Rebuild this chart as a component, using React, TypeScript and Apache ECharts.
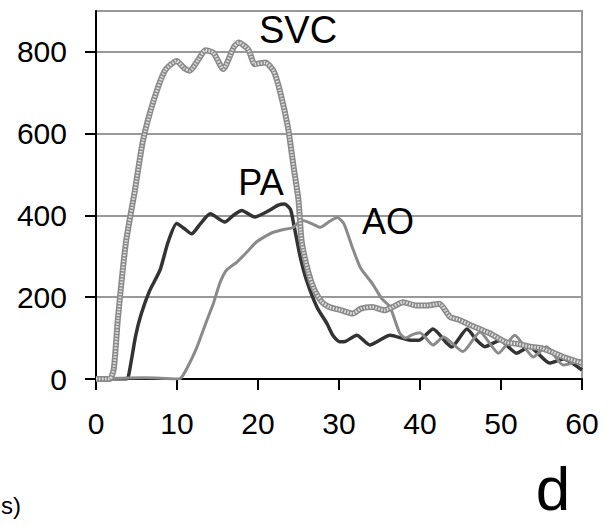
import React, { useEffect, useRef } from "react";
import * as echarts from "echarts";

const xTicks = [0, 10, 20, 30, 40, 50, 60];
const yTicks = [0, 200, 400, 600, 800];

const svcData: number[][] = [
  [0, 0], [1.7, 0], [2.2, 25], [2.7, 147], [3.7, 335], [4.8, 461], [5.8, 583], [7.1, 680],
  [8.5, 754], [9.95, 778], [10.9, 760], [11.6, 754], [12.6, 780], [13.5, 804], [14.5, 798],
  [15.7, 758], [17.0, 811], [17.6, 823], [18.8, 806], [19.6, 770], [20.9, 774], [21.9, 754],
  [22.7, 705], [23.7, 615], [24.4, 518], [25.0, 437], [25.4, 335], [26.2, 262], [26.9, 221],
  [27.9, 188], [28.8, 176], [30.3, 168], [31.7, 160], [32.7, 172], [34.1, 176], [35.6, 168],
  [36.6, 176], [37.9, 188], [39.5, 180], [40.9, 180], [42.4, 184], [43.7, 152], [44.8, 145],
  [46.2, 132], [48.6, 112], [50.6, 90], [52.0, 86], [53.6, 79], [54.9, 76], [56.4, 65],
  [57.8, 53], [60, 39],
];

const paData: number[][] = [
  [0, 0], [3.7, 0], [4.0, 6], [4.9, 106], [5.6, 160], [6.6, 215], [7.9, 266], [8.9, 335],
  [9.96, 380], [10.9, 368], [11.8, 355], [12.9, 380], [14.1, 404], [15.9, 384], [17.0, 401],
  [18.0, 412], [19.6, 396], [21.1, 409], [22.5, 425], [23.3, 428], [24.0, 415], [24.4, 380],
  [25.2, 300], [26.0, 241], [27.3, 175], [28.5, 136], [29.3, 105], [30.1, 91], [30.8, 92],
  [32.2, 107], [33.8, 83], [36.3, 107], [38.8, 95], [39.9, 95], [41.6, 122], [43.3, 88],
  [43.9, 78], [45.8, 122], [47.0, 95], [48.0, 79], [49.9, 95], [51.9, 63], [53.5, 79],
  [56.0, 39], [57.7, 49], [60, 22],
];

const aoData: number[][] = [
  [0, 0], [3, 2], [6, 3], [8, 2], [9.8, 0], [10.5, 3], [11.2, 25], [12.4, 75], [13.6, 139],
  [14.5, 185], [15.3, 235], [16.1, 266], [17.4, 286], [18.6, 310], [19.8, 335], [21.0, 350],
  [21.9, 359], [23.5, 367], [24.3, 370], [25.4, 388], [26.5, 381], [27.7, 371], [28.8, 385],
  [29.8, 395], [30.6, 380], [31.7, 319], [32.7, 270], [34.1, 234], [35.3, 196], [36.3, 176],
  [37.5, 112], [38.2, 100], [39.0, 108], [40.0, 113], [41.6, 83], [42.9, 103], [45.3, 67],
  [47.4, 115], [49.7, 63], [51.7, 107], [54.0, 54], [55.6, 79], [57.7, 34], [60, 46],
];

const seriesLabels = [
  { text: "SVC", x: 298, y: 30, size: 38 },
  { text: "PA", x: 261, y: 182, size: 36 },
  { text: "AO", x: 388, y: 221, size: 36 },
];

const FONT = '"Liberation Sans", Arial, sans-serif';

export default function App() {
  const ref = useRef<HTMLDivElement>(null);

  useEffect(() => {
    if (!ref.current) return;
    const chart = echarts.init(ref.current, null, { renderer: "svg" });
    chart.setOption({
      animation: false,
      backgroundColor: "#ffffff",
      grid: {
        left: 96,
        right: 32,
        top: 11,
        bottom: 146,
        show: true,
        borderColor: "#999999",
        borderWidth: 2,
      },
      xAxis: {
        type: "value",
        min: xTicks[0],
        max: xTicks[xTicks.length - 1],
        interval: 10,
        axisLine: { show: true, lineStyle: { color: "#000", width: 2 } },
        axisTick: { show: true, length: 11, lineStyle: { color: "#000", width: 2 } },
        splitLine: { show: false },
        axisLabel: {
          color: "#000",
          fontSize: 30,
          fontFamily: FONT,
          margin: 29,
        },
      },
      yAxis: {
        type: "value",
        min: yTicks[0],
        max: 900,
        interval: 200,
        axisLine: { show: true, lineStyle: { color: "#000", width: 2 } },
        axisTick: { show: true, length: 11, lineStyle: { color: "#000", width: 2 } },
        splitLine: { show: true, lineStyle: { color: "#999999", width: 2 } },
        axisLabel: {
          color: "#000",
          fontSize: 30,
          fontFamily: FONT,
          margin: 29,
          showMaxLabel: false,
          formatter: (v: number) => (yTicks.includes(v) ? String(v) : ""),
        },
      },
      series: [
        {
          name: "PA",
          type: "line",
          data: paData,
          showSymbol: false,
          smooth: 0.2,
          lineStyle: { color: "#333333", width: 3.5 },
          z: 3,
        },
        {
          name: "AO",
          type: "line",
          data: aoData,
          showSymbol: false,
          smooth: 0.2,
          lineStyle: { color: "#8a8a8a", width: 3 },
          z: 4,
        },
        {
          name: "SVC",
          type: "line",
          data: svcData,
          showSymbol: false,
          smooth: 0.2,
          lineStyle: { color: "#8a8a8a", width: 6 },
          z: 5,
        },
        {
          name: "SVC texture",
          type: "line",
          data: svcData,
          showSymbol: false,
          smooth: 0.2,
          lineStyle: { color: "#dedede", width: 3, type: [1.5, 1.5] },
          z: 6,
        },
      ],
      graphic: [
        ...seriesLabels.map((l) => ({
          type: "text",
          x: l.x,
          y: l.y,
          z: 10,
          style: {
            text: l.text,
            font: `${l.size}px ${FONT}`,
            fill: "#000",
            textAlign: "center",
            textVerticalAlign: "middle",
          },
        })),
        {
          type: "text",
          x: 553,
          y: 488,
          style: {
            text: "d",
            font: `62px ${FONT}`,
            fill: "#000",
            textAlign: "center",
            textVerticalAlign: "middle",
          },
        },
        {
          type: "text",
          x: 21,
          y: 505,
          style: {
            text: "s)",
            font: `24px ${FONT}`,
            fill: "#000",
            textAlign: "right",
            textVerticalAlign: "middle",
          },
        },
      ],
    });
    return () => chart.dispose();
  }, []);

  return (
    <div
      ref={ref}
      style={{ position: "fixed", left: 0, top: 0, width: 614, height: 525, background: "#fff" }}
    />
  );
}
